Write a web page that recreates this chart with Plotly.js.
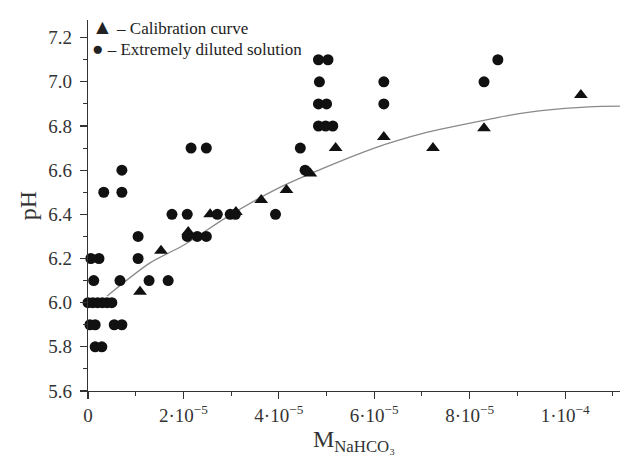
<!DOCTYPE html>
<html>
<head>
<meta charset="utf-8">
<script src="https://cdn.plot.ly/plotly-3.0.1.min.js"></script>
<style>html,body{margin:0;padding:0;background:#fff}#chart{width:622px;height:460px}</style>
</head>
<body>
<div id="chart"></div>
<script>
// Calibration curve points (triangles)
const calX = [1.09e-5, 1.53e-5, 2.1e-5, 2.56e-5, 3.1e-5, 3.63e-5, 4.16e-5, 4.66e-5, 5.19e-5, 6.2e-5, 7.23e-5, 8.3e-5, 10.33e-5];
const calY = [6.05, 6.235, 6.32, 6.40, 6.41, 6.465, 6.51, 6.585, 6.70, 6.75, 6.70, 6.79, 6.94];

// Extremely diluted solution (circles)
const dilX = [
  4.83e-5, 5.03e-5, 8.59e-5,
  4.85e-5, 6.2e-5, 8.3e-5,
  4.83e-5, 5.0e-5, 6.2e-5,
  4.83e-5, 4.98e-5, 5.13e-5,
  2.16e-5, 2.48e-5, 4.45e-5,
  0.71e-5, 4.55e-5,
  0.33e-5, 0.71e-5,
  1.76e-5, 2.08e-5, 2.71e-5, 2.98e-5, 3.09e-5, 3.93e-5,
  1.05e-5, 2.08e-5, 2.29e-5, 2.48e-5,
  0.06e-5, 0.23e-5, 1.05e-5,
  0.12e-5, 0.67e-5, 1.28e-5, 1.68e-5,
  0.0, 0.1e-5, 0.2e-5, 0.3e-5, 0.4e-5, 0.5e-5,
  0.04e-5, 0.15e-5, 0.55e-5, 0.71e-5,
  0.15e-5, 0.29e-5
];
const dilY = [
  7.1, 7.1, 7.1,
  7.0, 7.0, 7.0,
  6.9, 6.9, 6.9,
  6.8, 6.8, 6.8,
  6.7, 6.7, 6.7,
  6.6, 6.6,
  6.5, 6.5,
  6.4, 6.4, 6.4, 6.4, 6.4, 6.4,
  6.3, 6.3, 6.3, 6.3,
  6.2, 6.2, 6.2,
  6.1, 6.1, 6.1, 6.1,
  6.0, 6.0, 6.0, 6.0, 6.0, 6.0,
  5.9, 5.9, 5.9, 5.9,
  5.8, 5.8
];

// Fitted curve
const fitX = [0.4e-5, 1.3e-5, 2.0e-5, 3.0e-5, 4.0e-5, 5.0e-5, 6.0e-5, 6.5e-5, 7.0e-5, 7.5e-5, 8.4e-5, 9.0e-5, 9.5e-5, 10.5e-5, 11.15e-5];
const fitY = [6.03, 6.18, 6.26, 6.40, 6.52, 6.615, 6.70, 6.735, 6.765, 6.79, 6.83, 6.855, 6.87, 6.887, 6.89];

const xTickVals = [0, 2e-5, 4e-5, 6e-5, 8e-5, 1e-4];
const xTickText = ["0", "2·10<sup>−5</sup>", "4·10<sup>−5</sup>", "6·10<sup>−5</sup>", "8·10<sup>−5</sup>", "1·10<sup>−4</sup>"];
const yTickVals = [5.6, 5.8, 6.0, 6.2, 6.4, 6.6, 6.8, 7.0, 7.2];
const yTickText = ["5.6", "5.8", "6.0", "6.2", "6.4", "6.6", "6.8", "7.0", "7.2"];

const legendNames = ["– Calibration curve", "– Extremely diluted solution"];

const serif = "Liberation Serif, Times New Roman, serif";

const traces = [
  {
    x: fitX, y: fitY, type: 'scatter', mode: 'lines',
    line: {color: '#8a8a8a', width: 1.3, shape: 'spline', smoothing: 0.8},
    showlegend: false, hoverinfo: 'skip', cliponaxis: false
  },
  {
    x: calX, y: calY, type: 'scatter', mode: 'markers',
    name: legendNames[0], showlegend: false,
    marker: {symbol: 'triangle-up', size: 12, color: '#111'},
    cliponaxis: false
  },
  {
    x: dilX, y: dilY, type: 'scatter', mode: 'markers',
    name: legendNames[1], showlegend: false,
    marker: {symbol: 'circle', size: 11, color: '#111'},
    cliponaxis: false
  }
];

const layout = {
  width: 622, height: 460,
  margin: {l: 88, r: 2, t: 20, b: 69},
  paper_bgcolor: '#fff', plot_bgcolor: '#fff',
  font: {family: serif, size: 19, color: '#333'},
  showlegend: false,
  annotations: [
    {
      xref: 'paper', yref: 'paper', x: 0.004, y: 0.982, xanchor: 'left', yanchor: 'middle',
      showarrow: false, align: 'left',
      text: '<span style="font-size:21px">▲</span> ' + legendNames[0],
      font: {family: serif, size: 17, color: '#222'}
    },
    {
      xref: 'paper', yref: 'paper', x: 0.004, y: 0.9245, xanchor: 'left', yanchor: 'middle',
      showarrow: false, align: 'left',
      text: '<span style="font-size:19px">●</span> ' + legendNames[1],
      font: {family: serif, size: 17, color: '#222'}
    }
  ],
  xaxis: {
    range: [0, 1.115e-4],
    showgrid: false, zeroline: false,
    showline: true, linecolor: '#333', linewidth: 1.2,
    ticks: 'outside', ticklen: 7, tickcolor: '#333', tickwidth: 1.2,
    tickmode: 'array', tickvals: xTickVals, ticktext: xTickText,
    tickfont: {family: serif, size: 19, color: '#333'},
    minor: {dtick: 1e-5, ticks: 'outside', ticklen: 4, tickcolor: '#333', tickwidth: 1, showgrid: false},
    title: {text: 'M<sub>NaHCO₃</sub>', font: {family: serif, size: 24, color: '#333'}, standoff: 0}
  },
  yaxis: {
    range: [5.6, 7.28],
    showgrid: false, zeroline: false,
    showline: true, linecolor: '#333', linewidth: 1.2,
    ticks: 'outside', ticklen: 7, tickcolor: '#333', tickwidth: 1.2,
    ticklabelstandoff: 4,
    tickmode: 'array', tickvals: yTickVals, ticktext: yTickText,
    tickfont: {family: serif, size: 19, color: '#333'},
    minor: {dtick: 0.1, ticks: 'outside', ticklen: 4, tickcolor: '#333', tickwidth: 1, showgrid: false},
    title: {text: 'pH', font: {family: serif, size: 24, color: '#333'}, standoff: 4}
  }
};

Plotly.newPlot('chart', traces, layout, {displayModeBar: false, staticPlot: true});
</script>
</body>
</html>
